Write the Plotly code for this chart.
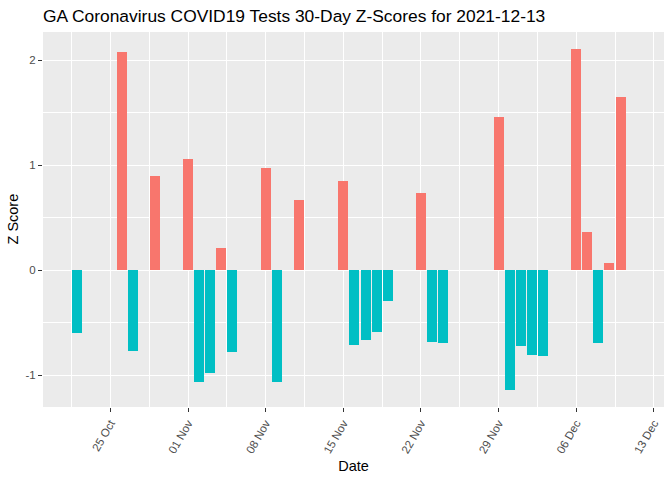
import plotly.graph_objects as go

dates = ["2021-10-22", "2021-10-26", "2021-10-27", "2021-10-29", "2021-11-01",
         "2021-11-02", "2021-11-03", "2021-11-04", "2021-11-05", "2021-11-08",
         "2021-11-09", "2021-11-11", "2021-11-15", "2021-11-16", "2021-11-17",
         "2021-11-18", "2021-11-19", "2021-11-22", "2021-11-23", "2021-11-24",
         "2021-11-29", "2021-11-30", "2021-12-01", "2021-12-02", "2021-12-03",
         "2021-12-06", "2021-12-07", "2021-12-08", "2021-12-09", "2021-12-10"]
z_scores = [-0.60, 2.08, -0.77, 0.90, 1.06,
            -1.06, -0.98, 0.21, -0.78, 0.97,
            -1.06, 0.67, 0.85, -0.71, -0.66,
            -0.59, -0.29, 0.73, -0.68, -0.69,
            1.46, -1.14, -0.72, -0.81, -0.82,
            2.11, 0.36, -0.69, 0.07, 1.65]

x_tick_dates = ["2021-10-25", "2021-11-01", "2021-11-08", "2021-11-15",
                "2021-11-22", "2021-11-29", "2021-12-06", "2021-12-13"]
x_tick_labels = ["25 Oct", "01 Nov", "08 Nov", "15 Nov", "22 Nov", "29 Nov", "06 Dec", "13 Dec"]
y_tick_vals = [-1, 0, 1, 2]
y_tick_labels = ["-1", "0", "1", "2"]

POS = "#F8766D"
NEG = "#00BFC4"
colors = [POS if v > 0 else NEG for v in z_scores]
DAY = 86400000
W, H = 672, 480
ML, MR, MT, MB = 43, 8, 32, 73
PW = W - ML - MR

fig = go.Figure(go.Bar(
    x=dates, y=z_scores, width=[0.9 * DAY] * len(dates),
    marker=dict(color=colors, line=dict(width=0)),
    showlegend=False,
))

fig.update_layout(
    width=W, height=H,
    paper_bgcolor="white", plot_bgcolor="#EBEBEB",
    margin=dict(l=ML, r=MR, t=MT, b=MB),
    font=dict(family="Liberation Sans, Arial, sans-serif"),
    title=dict(text="GA Coronavirus COVID19 Tests 30-Day Z-Scores for 2021-12-13",
               xref="container", x=43 / W, xanchor="left",
               yref="container", y=1 - 16 / H, yanchor="middle",
               font=dict(size=17.4, color="black")),
    bargap=0,
    annotations=[dict(text="Z Score", textangle=-90, showarrow=False,
                      xref="paper", x=(12 - ML) / PW, xanchor="center",
                      yref="paper", y=0.5, yanchor="middle",
                      font=dict(size=14.5, color="black"))],
)

fig.update_xaxes(
    type="date",
    range=["2021-10-18 22:00", "2021-12-13 22:00"],
    tickvals=x_tick_dates, ticktext=x_tick_labels, tickangle=-60,
    tickfont=dict(size=11.5, color="#4D4D4D"),
    ticks="outside", ticklen=4, tickcolor="#333333", tickwidth=1,
    showgrid=True, gridcolor="white", gridwidth=1.1,
    minor=dict(tick0="2021-10-21 12:00", dtick=7 * DAY, showgrid=True,
               gridcolor="white", gridwidth=0.55, ticks=""),
    zeroline=False, showline=False,
    title=dict(text="Date", font=dict(size=14.5, color="black"), standoff=6),
    automargin=False,
)
fig.update_yaxes(
    range=[-1.302, 2.267],
    tickvals=y_tick_vals, ticktext=y_tick_labels,
    tickfont=dict(size=11.5, color="#4D4D4D"),
    ticks="outside", ticklen=4, tickcolor="#333333", tickwidth=1,
    showgrid=True, gridcolor="white", gridwidth=1.1,
    minor=dict(dtick=0.5, tick0=0.5, showgrid=True, gridcolor="white", gridwidth=0.55, ticks=""),
    zeroline=False, showline=False,
    automargin=False,
)

fig.write_html("out.html", config={"displayModeBar": False},
               post_script="document.body.style.margin='0';")
